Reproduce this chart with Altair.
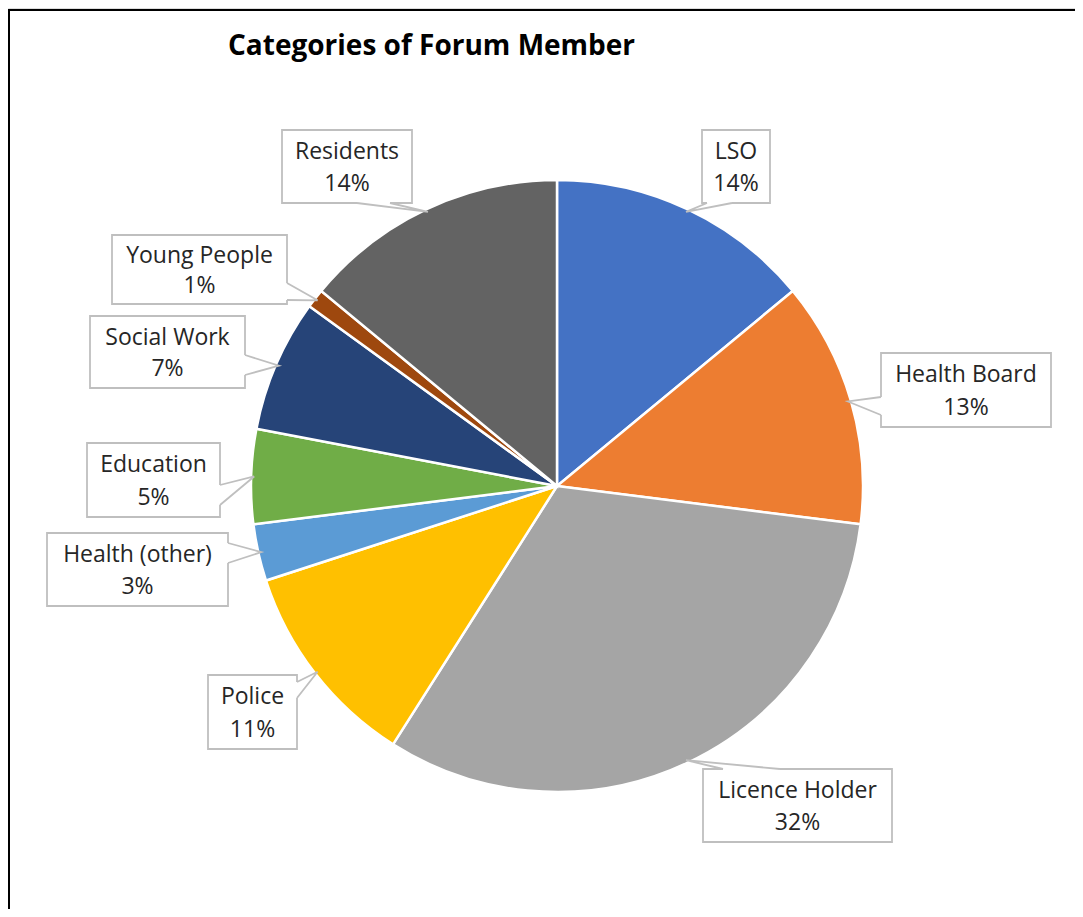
import math
import altair as alt
import pandas as pd

# ---------------- data ----------------
categories = ["LSO", "Health Board", "Licence Holder", "Police", "Health (other)",
              "Education", "Social Work", "Young People", "Residents"]
percent = [14, 13, 32, 11, 3, 5, 7, 1, 14]
colors = ["#4472C4", "#ED7D31", "#A5A5A5", "#FFC000", "#5B9BD5",
          "#70AD47", "#264478", "#9E480E", "#636363"]

# ---------------- layout (image coordinates) ----------------
OFF = 8  # page margin
CX, CY, R = 557 - OFF, 486 - OFF, 306
TIP_R = R - 3
# callout boxes: x0, y0, x1, y1, attach point 1, attach point 2
boxes = {
    "LSO": (702, 130, 770, 203, (707, 203), (732, 203)),
    "Health Board": (881, 353, 1051, 427, (881, 397), (881, 415)),
    "Licence Holder": (703, 769, 892, 842, (723, 769), (780, 769)),
    "Police": (208, 675, 297, 749, (297, 682), (297, 698)),
    "Health (other)": (47, 533, 228, 606, (228, 543), (228, 563)),
    "Education": (87, 443, 220, 517, (220, 485), (220, 505)),
    "Social Work": (90, 316, 245, 388, (245, 355), (245, 375)),
    "Young People": (112, 235, 287, 304, (287, 283), (287, 300)),
    "Residents": (282, 130, 412, 203, (357, 203), (390, 203)),
}

FONT = "Open Sans"
TXT = "#262626"
BORDER = "#BFBFBF"

pie_df = pd.DataFrame({"category": categories, "value": percent,
                       "idx": list(range(len(categories)))})

total = sum(percent)
rect_rows, text_rows, wedge_rows, cover_rows = [], [], [], []
cum = 0
for cat, v in zip(categories, percent):
    mid = (cum + v / 2) / total * 2 * math.pi
    cum += v
    tipx = CX + TIP_R * math.sin(mid)
    tipy = CY - TIP_R * math.cos(mid)
    x0, y0, x1, y1, a1, a2 = boxes[cat]
    x0, y0, x1, y1 = x0 - OFF, y0 - OFF, x1 - OFF, y1 - OFF
    h = y1 - y0
    rect_rows.append({"category": cat, "x0": x0, "y0": y0, "x1": x1, "y1": y1})
    text_rows.append({"category": cat, "tx": (x0 + x1) / 2, "ty": y0 + 0.30 * h, "label": cat})
    text_rows.append({"category": cat, "tx": (x0 + x1) / 2, "ty": y0 + 0.74 * h, "label": f"{v}%"})
    p1 = (a1[0] - OFF, a1[1] - OFF)
    p2 = (a2[0] - OFF, a2[1] - OFF)
    for k, (qx, qy) in enumerate([p1, (tipx, tipy), p2]):
        wedge_rows.append({"category": cat, "ord": k, "px": qx, "py": qy})
    for k, (qx, qy) in enumerate([p1, p2]):
        cover_rows.append({"category": cat, "ord": k, "px": qx, "py": qy})

rect_df = pd.DataFrame(rect_rows)
text_df = pd.DataFrame(text_rows)
wedge_df = pd.DataFrame(wedge_rows)
cover_df = pd.DataFrame(cover_rows)

def px(field):
    return alt.X(field, type="quantitative", scale=None, axis=None)

def py(field):
    return alt.Y(field, type="quantitative", scale=None, axis=None)

pie = alt.Chart(pie_df).mark_arc(radius=R, stroke="white", strokeWidth=2.5).encode(
    theta=alt.Theta("value:Q", stack=True),
    color=alt.Color("category:N", scale=alt.Scale(domain=categories, range=colors), legend=None),
    order=alt.Order("idx:Q"),
    x=alt.value(CX),
    y=alt.value(CY),
)

box = alt.Chart(rect_df).mark_rect(fill="white", stroke=BORDER, strokeWidth=1.8).encode(
    x=px("x0"), x2="x1", y=py("y0"), y2="y1"
)

cover = alt.Chart(cover_df).mark_line(color="white", strokeWidth=3).encode(
    x=px("px"), y=py("py"), detail="category:N", order="ord:Q"
)

wedge = alt.Chart(wedge_df).mark_line(color=BORDER, strokeWidth=1.8).encode(
    x=px("px"), y=py("py"), detail="category:N", order="ord:Q"
)

labels = alt.Chart(text_df).mark_text(
    font=FONT, fontSize=23, color=TXT, align="center", baseline="middle"
).encode(x=px("tx"), y=py("ty"), text="label:N")

frame = alt.Chart(pd.DataFrame({"a": [0]})).mark_rect(
    fill=None, stroke="black", strokeWidth=2
).encode(x=alt.value(1), x2=alt.value(2000), y=alt.value(2), y2=alt.value(2000))

title = alt.Chart(pd.DataFrame({"t": ["Categories of Forum Member"]})).mark_text(
    font=FONT, fontSize=28, fontWeight="bold", color="black", align="left", baseline="alphabetic"
).encode(x=alt.value(228 - OFF), y=alt.value(55 - OFF), text="t:N")

chart = alt.layer(frame, pie, box, cover, wedge, labels, title).properties(
    width=1067, height=901,
    autosize=alt.AutoSizeParams(type="none"),
    padding=0,
).configure_view(stroke=None).configure(background="white")

chart.save("out.html", embed_options={"renderer": "svg", "actions": False})
